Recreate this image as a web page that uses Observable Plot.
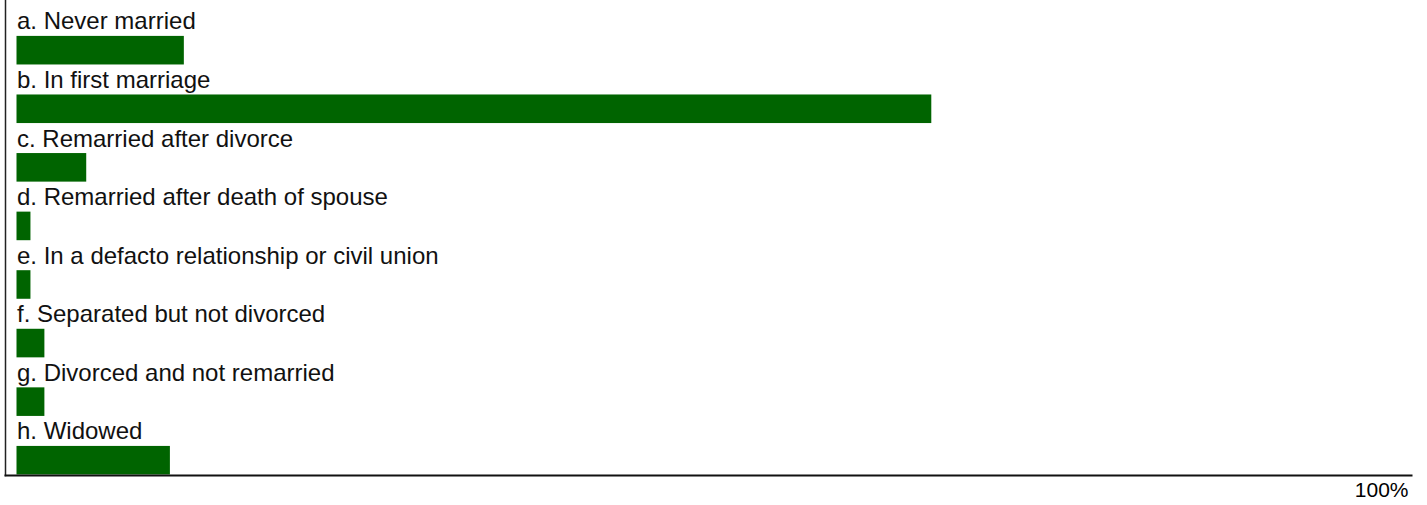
<!DOCTYPE html>
<html>
<head>
<meta charset="utf-8">
<script src="https://cdn.jsdelivr.net/npm/d3@7"></script>
<script src="https://cdn.jsdelivr.net/npm/@observablehq/plot@0.6"></script>
<style>
  html, body { margin: 0; padding: 0; background: #fff; }
  #chart { width: 1427px; height: 505px; }
</style>
</head>
<body>
<div id="chart"></div>
<script>
const categories = [
  "a. Never married",
  "b. In first marriage",
  "c. Remarried after divorce",
  "d. Remarried after death of spouse",
  "e. In a defacto relationship or civil union",
  "f. Separated but not divorced",
  "g. Divorced and not remarried",
  "h. Widowed"
];
const values = [12, 65.6, 5, 1, 1, 2, 2, 11];
const xTicks = [100];

const data = categories.map((c, i) => ({category: c, value: values[i]}));

const chart = Plot.plot({
  width: 1427,
  height: 505,
  marginLeft: 5,
  marginRight: 16,
  marginTop: 0,
  marginBottom: 30,
  style: {fontFamily: "'Liberation Sans', Arial, sans-serif", color: "#000", background: "#fff"},
  x: {domain: [0, 100], insetLeft: 11.5, label: null},
  y: {domain: categories, paddingInner: 0, paddingOuter: 0, insetTop: 6.4, round: false, axis: null},
  marks: [
    Plot.barX(data, {x: "value", y: "category", fill: "darkgreen", insetTop: 29.5, insetBottom: 0.5}),
    Plot.text(data, {x: 0, y: "category", text: "category", textAnchor: "start", dy: -14.5, fontSize: 24, fill: "#111"}),
    Plot.frame({anchor: "left", stroke: "#222", strokeWidth: 1.5}),
    Plot.frame({anchor: "bottom", stroke: "#111", strokeWidth: 2}),
    Plot.axisX({ticks: xTicks, tickFormat: d => d + "%", tickSize: 0, tickPadding: 7, textAnchor: "end", dx: -3, fontSize: 21, label: null})
  ]
});
document.getElementById("chart").appendChild(chart);
</script>
</body>
</html>
